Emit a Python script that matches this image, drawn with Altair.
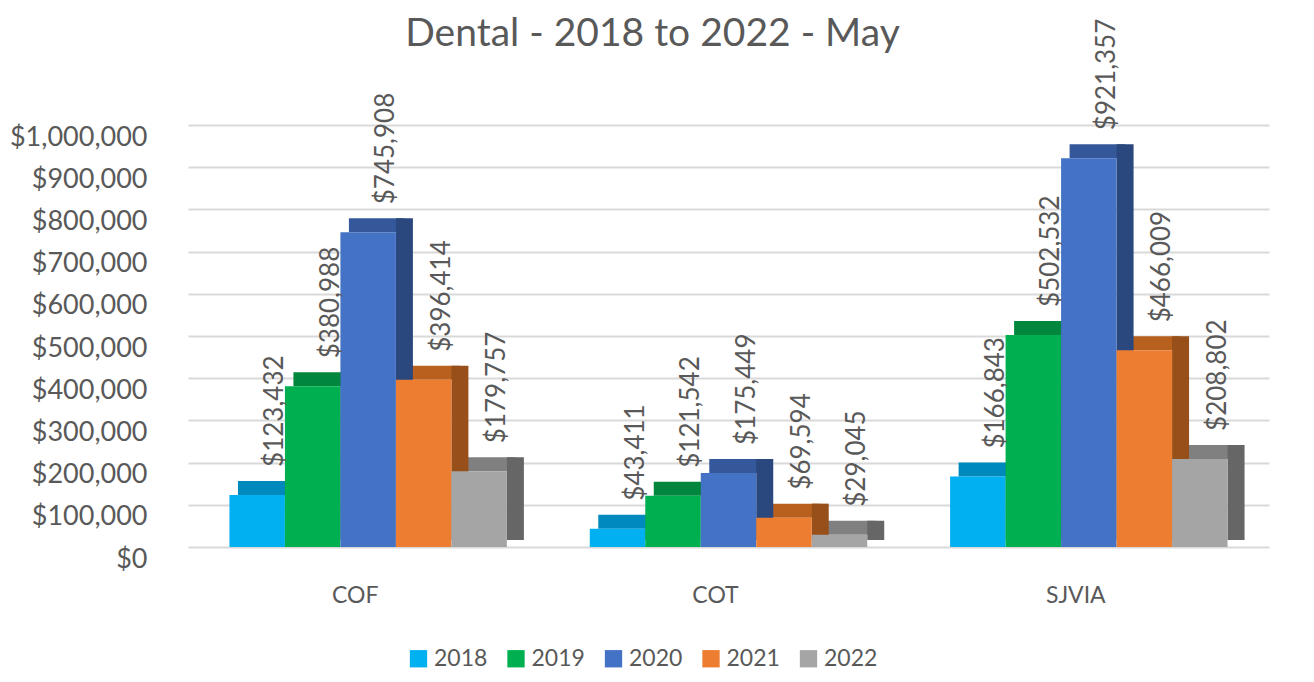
import altair as alt
import pandas as pd

categories = ["COF", "COT", "SJVIA"]
years = ["2018", "2019", "2020", "2021", "2022"]
values_2018 = [123432, 43411, 166843]
values_2019 = [380988, 121542, 502532]
values_2020 = [745908, 175449, 921357]
values_2021 = [396414, 69594, 466009]
values_2022 = [179757, 29045, 208802]

front_colors = ["#00B0F0", "#00B050", "#4472C4", "#ED7D31", "#A5A5A5"]
top_colors = ["#0089BC", "#00873D", "#34589A", "#B8611F", "#808080"]
side_colors = ["#006F99", "#006B30", "#2A477E", "#97501A", "#666666"]

series = [values_2018, values_2019, values_2020, values_2021, values_2022]
rows = []
for yi, yr in enumerate(years):
    for ci, cat in enumerate(categories):
        rows.append({
            "cat": cat, "year": yr, "value": series[yi][ci],
            "top": top_colors[yi], "side": side_colors[yi],
        })
df = pd.DataFrame(rows)

FONT = "Lato"
TXT = "#595959"
PLOT_W, PLOT_H = 1081, 422
GROUP_W = PLOT_W / 3.0 * 0.77          # band width of each category group
BAR_W = GROUP_W / 5.0
DEPTH_X, DEPTH_Y = 17, 14

x_enc = alt.X("cat:N", sort=categories,
              scale=alt.Scale(paddingInner=0.23, paddingOuter=0.115),
              axis=alt.Axis(title=None, labelAngle=0, domain=False, ticks=False,
                            labelFontSize=23, labelColor=TXT, labelFont=FONT,
                            labelPadding=37, labelOffset=-13))


def xo(shift=0.0):
    return alt.XOffset("year:N", sort=years,
                       scale=alt.Scale(type="band", range=[shift, shift + GROUP_W],
                                       paddingInner=0, paddingOuter=0))


y_scale = alt.Scale(domain=[0, 1000000], nice=False)
base = alt.Chart(df)

top_face = base.mark_bar(yOffset=-DEPTH_Y, y2Offset=0).encode(
    x=x_enc, xOffset=xo(DEPTH_X / 2),
    y=alt.Y("value:Q", scale=y_scale),
    y2="value:Q",
    color=alt.Color("top:N", scale=None),
)

side_face = base.mark_bar(width=DEPTH_X, yOffset=-DEPTH_Y, y2Offset=-DEPTH_Y / 2).encode(
    x=x_enc, xOffset=xo(BAR_W / 2 + DEPTH_X / 2),
    y=alt.Y("value:Q", scale=y_scale),
    y2=alt.Y2(datum=0),
    color=alt.Color("side:N", scale=None),
)

front = base.mark_bar().encode(
    x=x_enc, xOffset=xo(0),
    y=alt.Y("value:Q", scale=y_scale,
            axis=alt.Axis(title=None, format="$,.0f", values=list(range(0, 1000001, 100000)),
                          domain=False, ticks=False, labelFontSize=27, labelColor=TXT,
                          labelFont=FONT, labelPadding=41, labelOffset=12,
                          gridColor="#D9D9D9", gridWidth=2)),
    color=alt.Color("year:N", sort=years,
                    scale=alt.Scale(domain=years, range=front_colors),
                    legend=alt.Legend(title=None, orient="none", direction="horizontal",
                                      legendX=219, legendY=522, symbolType="square",
                                      symbolSize=300, symbolStrokeWidth=0,
                                      labelFontSize=23, labelColor=TXT, labelFont=FONT,
                                      columnPadding=16.5, labelOffset=4)),
)

labels = base.mark_text(angle=270, align="left", baseline="middle", dx=28, dy=18,
                        fontSize=26, font=FONT, color=TXT).encode(
    x=x_enc, xOffset=xo(0),
    y=alt.Y("value:Q", scale=y_scale),
    text=alt.Text("value:Q", format="$,.0f"),
)

chart = alt.layer(top_face, side_face, front, labels).resolve_scale(
    xOffset="independent"
).properties(
    width=PLOT_W, height=PLOT_H,
    title=alt.TitleParams("Dental - 2018 to 2022 - May", fontSize=39, font=FONT,
                          color=TXT, fontWeight="normal", anchor="middle",
                          offset=0, dx=-76, dy=74, baseline="bottom"),
    autosize=alt.AutoSizeParams(type="none"),
    padding={"left": 180, "top": 117, "right": 37, "bottom": 127},
).configure(background="white").configure_view(stroke=None)

chart.save("out.html", embed_options={"renderer": "svg", "actions": False})
